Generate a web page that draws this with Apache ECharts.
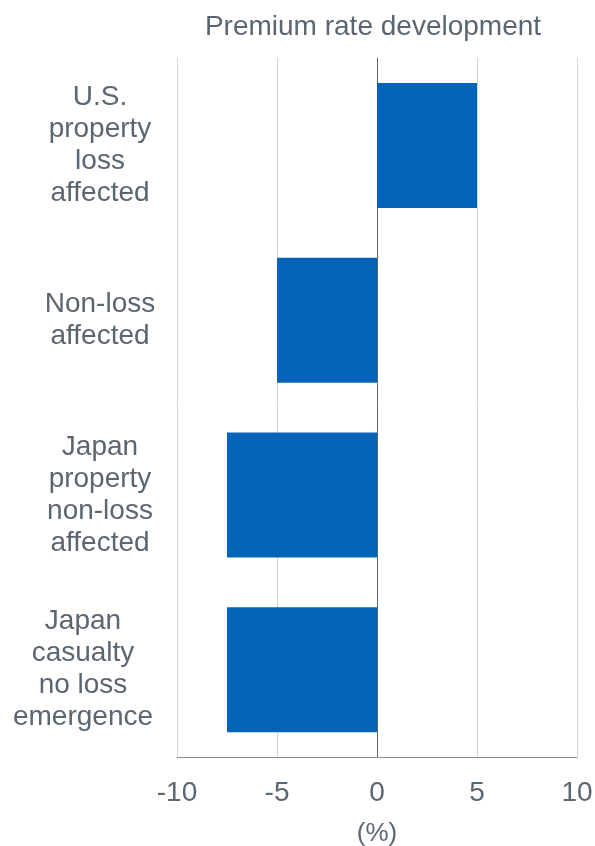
<!DOCTYPE html>
<html>
<head>
<meta charset="utf-8">
<script src="https://cdn.jsdelivr.net/npm/echarts@6/dist/echarts.min.js"></script>
<style>
  html, body { margin: 0; padding: 0; background: #fff; }
  #main { width: 595px; height: 846px; }
</style>
</head>
<body>
<div id="main"></div>
<script>
// categories, top to bottom
var categories = [
  'U.S.\nproperty\nloss\naffected',
  'Non-loss\naffected',
  'Japan\nproperty\nnon-loss\naffected',
  'Japan\ncasualty\nno loss\nemergence'
];
var rateChange = [5, -5, -7.5, -7.5];

var textColor = '#5b6670';
var font = 'Liberation Sans, Arial, Helvetica, sans-serif';

var chart = echarts.init(document.getElementById('main'));
chart.setOption({
  animation: false,
  textStyle: { fontFamily: font },
  title: {
    text: 'Premium rate development',
    left: 368,
    textAlign: 'center',
    top: 8,
    textStyle: { color: textColor, fontSize: 28, fontWeight: 'normal', fontFamily: font }
  },
  grid: { left: 177, right: 18, top: 58, bottom: 89, containLabel: false, outerBoundsMode: 'none' },
  xAxis: {
    type: 'value',
    min: -10,
    max: 10,
    interval: 5,
    name: '(%)',
    nameLocation: 'middle',
    nameGap: 64,
    nameTextStyle: { color: textColor, fontSize: 26, fontFamily: font },
    axisLine: { show: true, onZero: false, lineStyle: { color: '#8a8f94', width: 1 } },
    axisTick: { show: false },
    splitLine: { show: true, lineStyle: { color: '#d4d4d4', width: 1 } },
    axisLabel: { color: textColor, fontSize: 28, margin: 22, fontFamily: font }
  },
  yAxis: {
    type: 'category',
    inverse: true,
    data: categories,
    axisLine: { show: true, onZero: true, lineStyle: { color: '#5a6670', width: 1 } },
    axisTick: { show: false },
    axisLabel: {
      color: textColor,
      fontSize: 28,
      lineHeight: 32,
      align: 'center',
      margin: 77,
      fontFamily: font,
      // the last label is too wide for its centre, so it is pushed left
      formatter: function(v, i){
        if(i == 3) return v.split('\n').map(function(s){ return '{w|' + s + '}'; }).join('\n');
        return v;
      },
      rich: {
        w: { color: textColor, fontSize: 28, lineHeight: 32, fontFamily: font, padding: [0, 34, 0, 0] }
      }
    }
  },
  series: [{
    type: 'bar',
    data: rateChange,
    barWidth: 125,
    itemStyle: { color: '#0563b8' }
  }]
});
</script>
</body>
</html>
